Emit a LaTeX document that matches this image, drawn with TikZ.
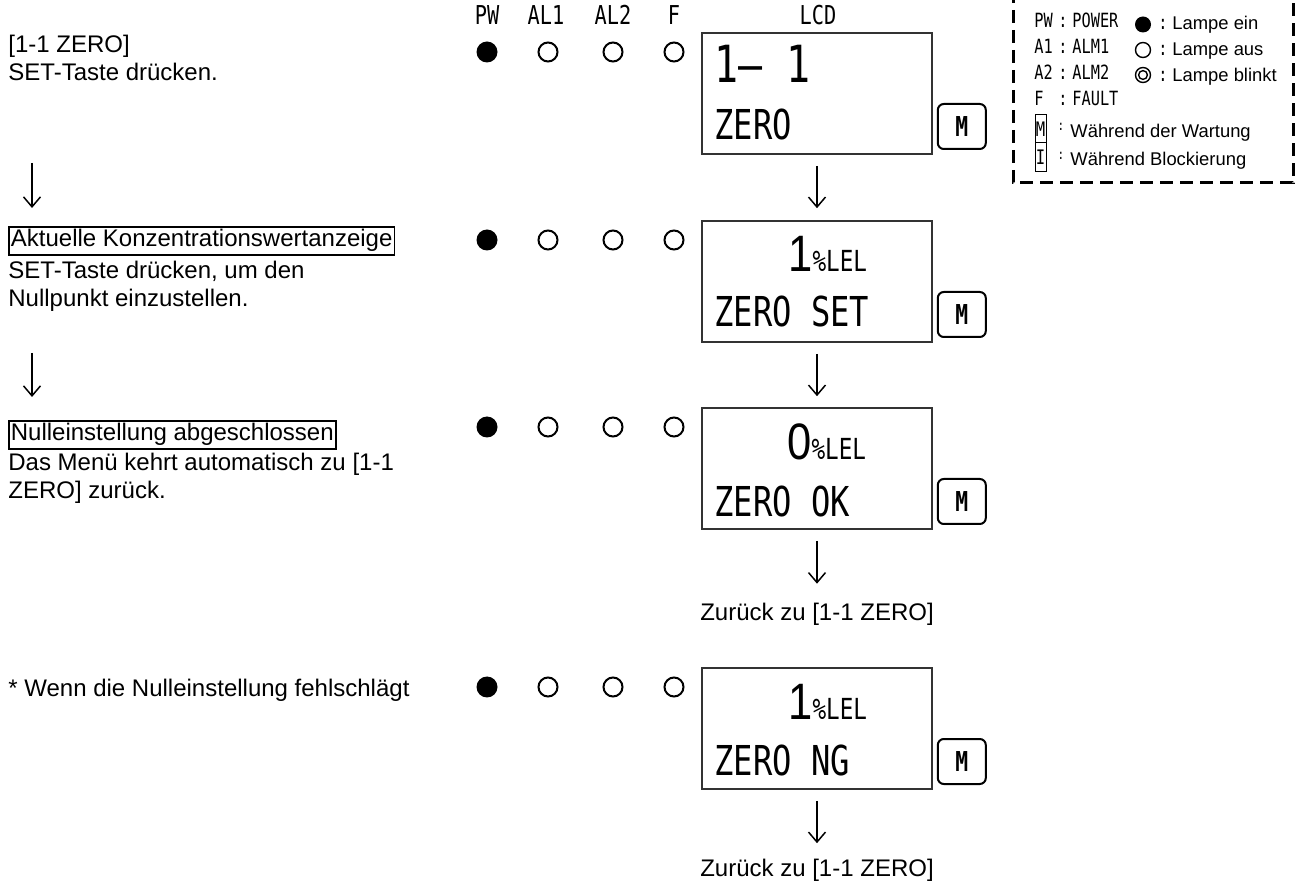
\documentclass[tikz,border=0pt]{standalone}
\usepackage{fontspec}
\setmainfont{Liberation Sans}
\newfontfamily\lcdfont[FakeStretch=0.78]{DejaVu Sans Mono}
\newfontfamily\lcddigit[FakeStretch=0.85]{Liberation Sans}
\usetikzlibrary{arrows.meta, positioning, calc}
\newcommand{\lelunit}{{\lcdfont\fontsize{14.5}{15}\selectfont\%LEL}}

\tikzset{
  txt/.style={font=\fontsize{12}{13.75}\selectfont, align=left, inner sep=0pt},
  titlebox/.style={txt, draw, line width=0.9pt, inner xsep=1pt, inner ysep=1.5pt},
  lcdbox/.style={draw=black!80, line width=0.8pt, minimum width=115pt, minimum height=60.5pt, inner sep=0pt},
  lcdbig/.style={font=\lcdfont\fontsize{25.6}{26}\selectfont, inner sep=0pt, anchor=base west},
  lcdval/.style={font=\lcddigit\fontsize{25.6}{26}\selectfont, inner sep=0pt, anchor=base west},
  lcdmid/.style={font=\lcdfont\fontsize{20.6}{21}\selectfont, inner sep=0pt, anchor=base west},
  mkey/.style={draw, line width=1pt, rounded corners=3pt, minimum width=24pt, minimum height=22.5pt, inner sep=0pt, font=\lcdfont\bfseries\fontsize{13.7}{14}\selectfont},
  head/.style={font=\lcdfont\fontsize{13}{14}\selectfont, inner sep=0pt, anchor=base},
  lampon/.style={circle, fill=black, minimum size=10.5pt, inner sep=0pt},
  lampoff/.style={circle, draw, line width=1pt, minimum size=9.5pt, inner sep=0pt},
  flow/.style={-{Straight Barb[length=5pt, width=8.5pt]}, line width=0.75pt},
  legtxt/.style={font=\fontsize{9.2}{10}\selectfont, inner sep=0pt, anchor=base west},
  legnar/.style={font=\lcdfont\fontsize{9.8}{10}\selectfont, inner sep=0pt, anchor=base west},
}

\begin{document}
\begin{tikzpicture}[x=0.5pt, y=-0.5pt]
\useasboundingbox (0,0) rectangle (1298,882);

\node[head] (hpw) at (487,25) {PW};
\node[head] (hal1) at (546,25) {AL1};
\node[head] (hal2) at (613,25) {AL2};
\node[head] (hf) at (674,25) {F};
\node[head] (hlcd) at (818,25) {LCD};

\foreach \row/\yy in {1/52, 2/240, 3/427, 4/687}{
  \node[lampon]  (pw\row) at (487,\yy) {};
  \node[lampoff] (aa\row) at (548,\yy) {};
  \node[lampoff] (ab\row) at (613,\yy) {};
  \node[lampoff] (ff\row) at (674,\yy) {};
}

\node[lcdbox] (lcd1) at (817,93.5) {};
\node[lcdbox] (lcd2) at (817,281.5) {};
\node[lcdbox] (lcd3) at (817,468.5) {};
\node[lcdbox] (lcd4) at (817,728.5) {};

\node[lcdbig] (l1a) at (714,83) {1– 1};
\node[lcdmid] (l1b) at (714,140) {ZERO};
\node[lcdval] (l2a) at (788,272) {1\lelunit};
\node[lcdmid] (l2b) at (714,327) {ZERO SET};
\node[lcdval] (l3a) at (787,460) {0\lelunit};
\node[lcdmid] (l3b) at (714,517) {ZERO OK};
\node[lcdval] (l4a) at (788,719) {1\lelunit};
\node[lcdmid] (l4b) at (714,776) {ZERO NG};

\node[mkey] (m1) at ($(lcd1.east)+(29,33)$) {M};
\node[mkey] (m2) at ($(lcd2.east)+(29,33)$) {M};
\node[mkey] (m3) at ($(lcd3.east)+(29,33)$) {M};
\node[mkey] (m4) at ($(lcd4.east)+(29,33)$) {M};

\node[txt, anchor=base] (back1) at (817,621) {Zurück zu [1-1 ZERO]};
\node[txt, anchor=base] (back2) at (817,876) {Zurück zu [1-1 ZERO]};

\draw[flow, shorten <=5.5pt, shorten >=6pt] (lcd1) -- (lcd2);
\draw[flow, shorten <=5.5pt, shorten >=5.5pt] (lcd2) -- (lcd3);
\draw[flow, shorten <=5.5pt, shorten >=9.75pt] (lcd3) -- (back1);
\draw[flow, shorten <=5.5pt, shorten >=7.5pt] (lcd4) -- (back2);

\node[txt, anchor=north west] (s1) at (8,35) {[1-1 ZERO]\\SET-Taste drücken.};
\node[titlebox, anchor=base west] (s2) at (8,247) {Aktuelle Konzentrationswertanzeige};
\node[txt, anchor=north west] (s2b) at (8,261) {SET-Taste drücken, um den\\Nullpunkt einzustellen.};
\node[titlebox, anchor=base west] (s3) at (8,441) {Nulleinstellung abgeschlossen};
\node[txt, anchor=north west] (s3b) at (8,453) {Das Menü kehrt automatisch zu [1-1\\ZERO] zurück.};
\node[txt, anchor=base west] (s4) at (8,697) {* Wenn die Nulleinstellung fehlschlägt};

\coordinate (la1) at (32,163);
\coordinate (lb1) at (32,208);
\coordinate (la2) at (32,353);
\coordinate (lb2) at (32,397);
\draw[flow] (la1) -- (lb1);
\draw[flow] (la2) -- (lb2);

\draw[line width=1.5pt, dash pattern=on 6.5pt off 3.5pt] (1013,-10) rectangle (1293,183);
\node[legnar] (kpw) at (1034,28) {PW};
\node[legnar] (ka1) at (1034,54) {A1};
\node[legnar] (ka2) at (1034,80) {A2};
\node[legnar] (kf) at (1034,106) {F};
\foreach \yy in {28,54,80,106}
  \node[legnar, anchor=base] at (1063,\yy) {:};
\node[legnar] (vpw) at (1072,28) {POWER};
\node[legnar] (va1) at (1072,54) {ALM1};
\node[legnar] (va2) at (1072,80) {ALM2};
\node[legnar] (vf) at (1072,106) {FAULT};

\node[lampon, minimum size=8pt] (lgon) at (1143,24.5) {};
\node[lampoff, minimum size=7.5pt, line width=0.7pt] (lgoff) at (1143,50) {};
\node[lampoff, minimum size=7.5pt, line width=0.7pt] (lgbl) at (1143,75) {};
\draw[line width=0.7pt] (lgbl) circle[radius=2.2pt];
\foreach \yy in {30,56,82}
  \node[legnar, anchor=base] at (1163,\yy) {:};
\node[legtxt] (lein) at (1172,30) {Lampe ein};
\node[legtxt] (laus) at (1172,56) {Lampe aus};
\node[legtxt] (lbli) at (1172,82) {Lampe blinkt};

\node[draw, line width=0.5pt, minimum width=5.5pt, minimum height=14pt, inner sep=0pt,
  font=\lcdfont\fontsize{10}{10}\selectfont] (lgm) at (1040.5,129) {M};
\node[draw, line width=0.5pt, minimum width=5.5pt, minimum height=14.5pt, inner sep=0pt,
  font=\lcdfont\fontsize{10}{10}\selectfont] (lgi) at (1040.5,157.5) {I};
\node[legnar, anchor=center, font=\lcdfont\fontsize{7}{7}\selectfont] (cm) at (1061,127) {:};
\node[legnar, anchor=center, font=\lcdfont\fontsize{7}{7}\selectfont] (ci) at (1061,156) {:};
\node[legtxt] (lwart) at (1070,138) {Während der Wartung};
\node[legtxt] (lblock) at (1070,166) {Während Blockierung};
\end{tikzpicture}
\end{document}
